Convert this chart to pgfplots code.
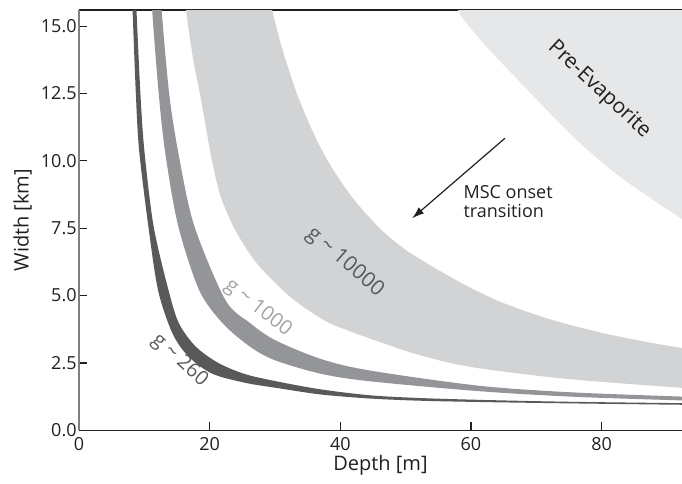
\documentclass[border=0pt]{standalone}
\usepackage{fontspec}
\setmainfont{Open Sans}
\usepackage{pgfplots}
\pgfplotsset{compat=1.18}
\usepgfplotslibrary{fillbetween}
\usetikzlibrary{arrows.meta}

\definecolor{cdark}{HTML}{58595B}
\definecolor{cmid}{HTML}{939598}
\definecolor{clight}{HTML}{D1D3D4}
\definecolor{cpre}{HTML}{E6E7E8}
\definecolor{cmidtxt}{HTML}{A0A2A5}
\definecolor{txt}{HTML}{231F20}
\definecolor{axgray}{HTML}{808080}

\begin{document}
\begin{tikzpicture}
\begin{axis}[
  scale only axis, width=301.5pt, height=210.15pt,
  xmin=0, xmax=92.3, ymin=0, ymax=15.6,
  separate axis lines,
  axis x line=box, axis y line=left,
  x axis line style={-, draw=txt, line width=0.7pt},
  y axis line style={-, draw=axgray, line width=0.7pt},
  xtick={0,20,40,60,80}, ytick={0,2.5,5,7.5,10,12.5,15},
  xtick pos=bottom, ytick pos=left,
  tick align=inside, major tick length=4pt,
  tick style={draw=txt, line width=0.6pt},
  /pgf/number format/assume math mode=true,
  yticklabel style={/pgf/number format/fixed, /pgf/number format/fixed zerofill,
    /pgf/number format/precision=1, inner sep=1pt},
  ticklabel style={font=\fontsize{9}{10}\selectfont, text=txt},
  xlabel={Depth [m]}, ylabel={Width [km]},
  label style={font=\fontsize{10}{12}\selectfont, text=txt},
  xlabel style={yshift=4.5pt},
]
% g ~ 260 band
\addplot[draw=none, smooth, name path=d1, forget plot] coordinates {
  (8.0,17) (8.2,15.6) (8.7,12.5) (9.2,10.4) (10.6,7.6) (12.1,5.2) (14.3,3.6)
  (16.8,2.73) (20.4,2.1) (25.5,1.76) (30.6,1.56) (37,1.33) (44.5,1.18)
  (52,1.1) (61.4,1.05) (75,1.0) (95,0.94)};
\addplot[draw=none, smooth, name path=d2, forget plot] coordinates {
  (8.6,17) (8.8,15.6) (9.4,12.5) (10.0,10.4) (11.4,7.6) (13.7,5.2) (15.3,3.97)
  (17.9,3.10) (21.4,2.49) (25.5,2.08) (30.6,1.80) (37,1.52) (44.5,1.30)
  (52,1.2) (61.4,1.13) (75,1.06) (95,1.0)};
\addplot[fill=cdark, draw=none] fill between[of=d1 and d2];

% g ~ 1000 band
\addplot[draw=none, smooth, name path=m1, forget plot] coordinates {
  (11.0,17) (11.2,15.6) (12.2,12.5) (13.2,10.3) (15.15,7.62) (18.4,5.2) (22,3.97)
  (26.2,3.1) (30,2.6) (37,2.1) (44.5,1.82) (61.4,1.45) (76.2,1.24) (95,1.09)};
\addplot[draw=none, smooth, name path=m2, forget plot] coordinates {
  (12.4,17) (12.65,15.6) (13.8,12.5) (15.2,10.3) (17.6,7.62) (22.4,4.84) (26.2,3.98)
  (30,3.35) (37,2.65) (44.5,2.22) (61.4,1.65) (76.2,1.40) (95,1.23)};
\addplot[fill=cmid, draw=none] fill between[of=m1 and m2];

% g ~ 10000 band
\addplot[draw=none, smooth, name path=l1, forget plot] coordinates {
  (16.2,17) (16.4,15.6) (17.5,13.74) (18.5,12.5) (19.5,11.15) (20.4,9.95)
  (21.7,8.67) (23.9,7.44) (27.2,6.2) (32.3,4.96) (37.4,4.1) (41,3.72)
  (46.6,3.23) (52,2.8) (60,2.35) (75,1.9) (95,1.53)};
\addplot[draw=none, smooth, name path=l2, forget plot] coordinates {
  (28.8,16.4) (29.5,15.66) (31,14.25) (33.3,12.53) (36.1,10.92) (38.7,9.75)
  (42,8.59) (46.1,7.48) (50,6.7) (55,5.95) (60,5.28) (65,4.72) (72.1,4.12)
  (80,3.62) (88,3.23) (95,2.95)};
\addplot[fill=clight, draw=none] fill between[of=l1 and l2];

% pre-evaporite region
\addplot[draw=none, smooth, name path=p1, forget plot] coordinates {
  (57.2,17) (58.0,15.6) (61.9,14.37) (66.7,13.13) (71.6,11.89) (76.7,10.66)
  (82.3,9.5) (87.9,8.55) (92.3,7.85) (95,7.5)};
\addplot[draw=none, name path=p2, forget plot] coordinates {(50,17) (100,17)};
\addplot[fill=cpre, draw=none] fill between[of=p1 and p2];

\node[rotate=-42, text=cdark, font=\fontsize{10}{12}\selectfont] at (axis cs:15.4,2.58) {g \textasciitilde{} 260};
\node[rotate=-38, text=cmidtxt, font=\fontsize{10}{12}\selectfont] at (axis cs:27.4,4.53) {g \textasciitilde{} 1000};
\node[rotate=-41, text=cdark, font=\fontsize{10.5}{12}\selectfont] at (axis cs:40.7,6.24) {g \textasciitilde{} 10000};
\node[rotate=-43, text=txt, font=\fontsize{10.5}{12}\selectfont] at (axis cs:79.6,12.64) {Pre-Evaporite};
\node[anchor=west, align=left, text=txt, font=\fontsize{9}{9.5}\selectfont, inner sep=0pt] at (axis cs:58.8,8.48) {MSC onset\\transition};
\draw[-{Latex[length=6pt,width=4pt]}, line width=0.6pt, draw=txt] (axis cs:65.2,10.84) -- (axis cs:51.0,7.87);

\coordinate (bl) at (rel axis cs:0,0);
\coordinate (tr) at (rel axis cs:1,1);
\end{axis}
\pgfresetboundingbox
\path[use as bounding box] ([xshift=-39.5pt,yshift=-26.35pt]bl) rectangle ([yshift=5pt]tr);
\end{tikzpicture}
\end{document}
